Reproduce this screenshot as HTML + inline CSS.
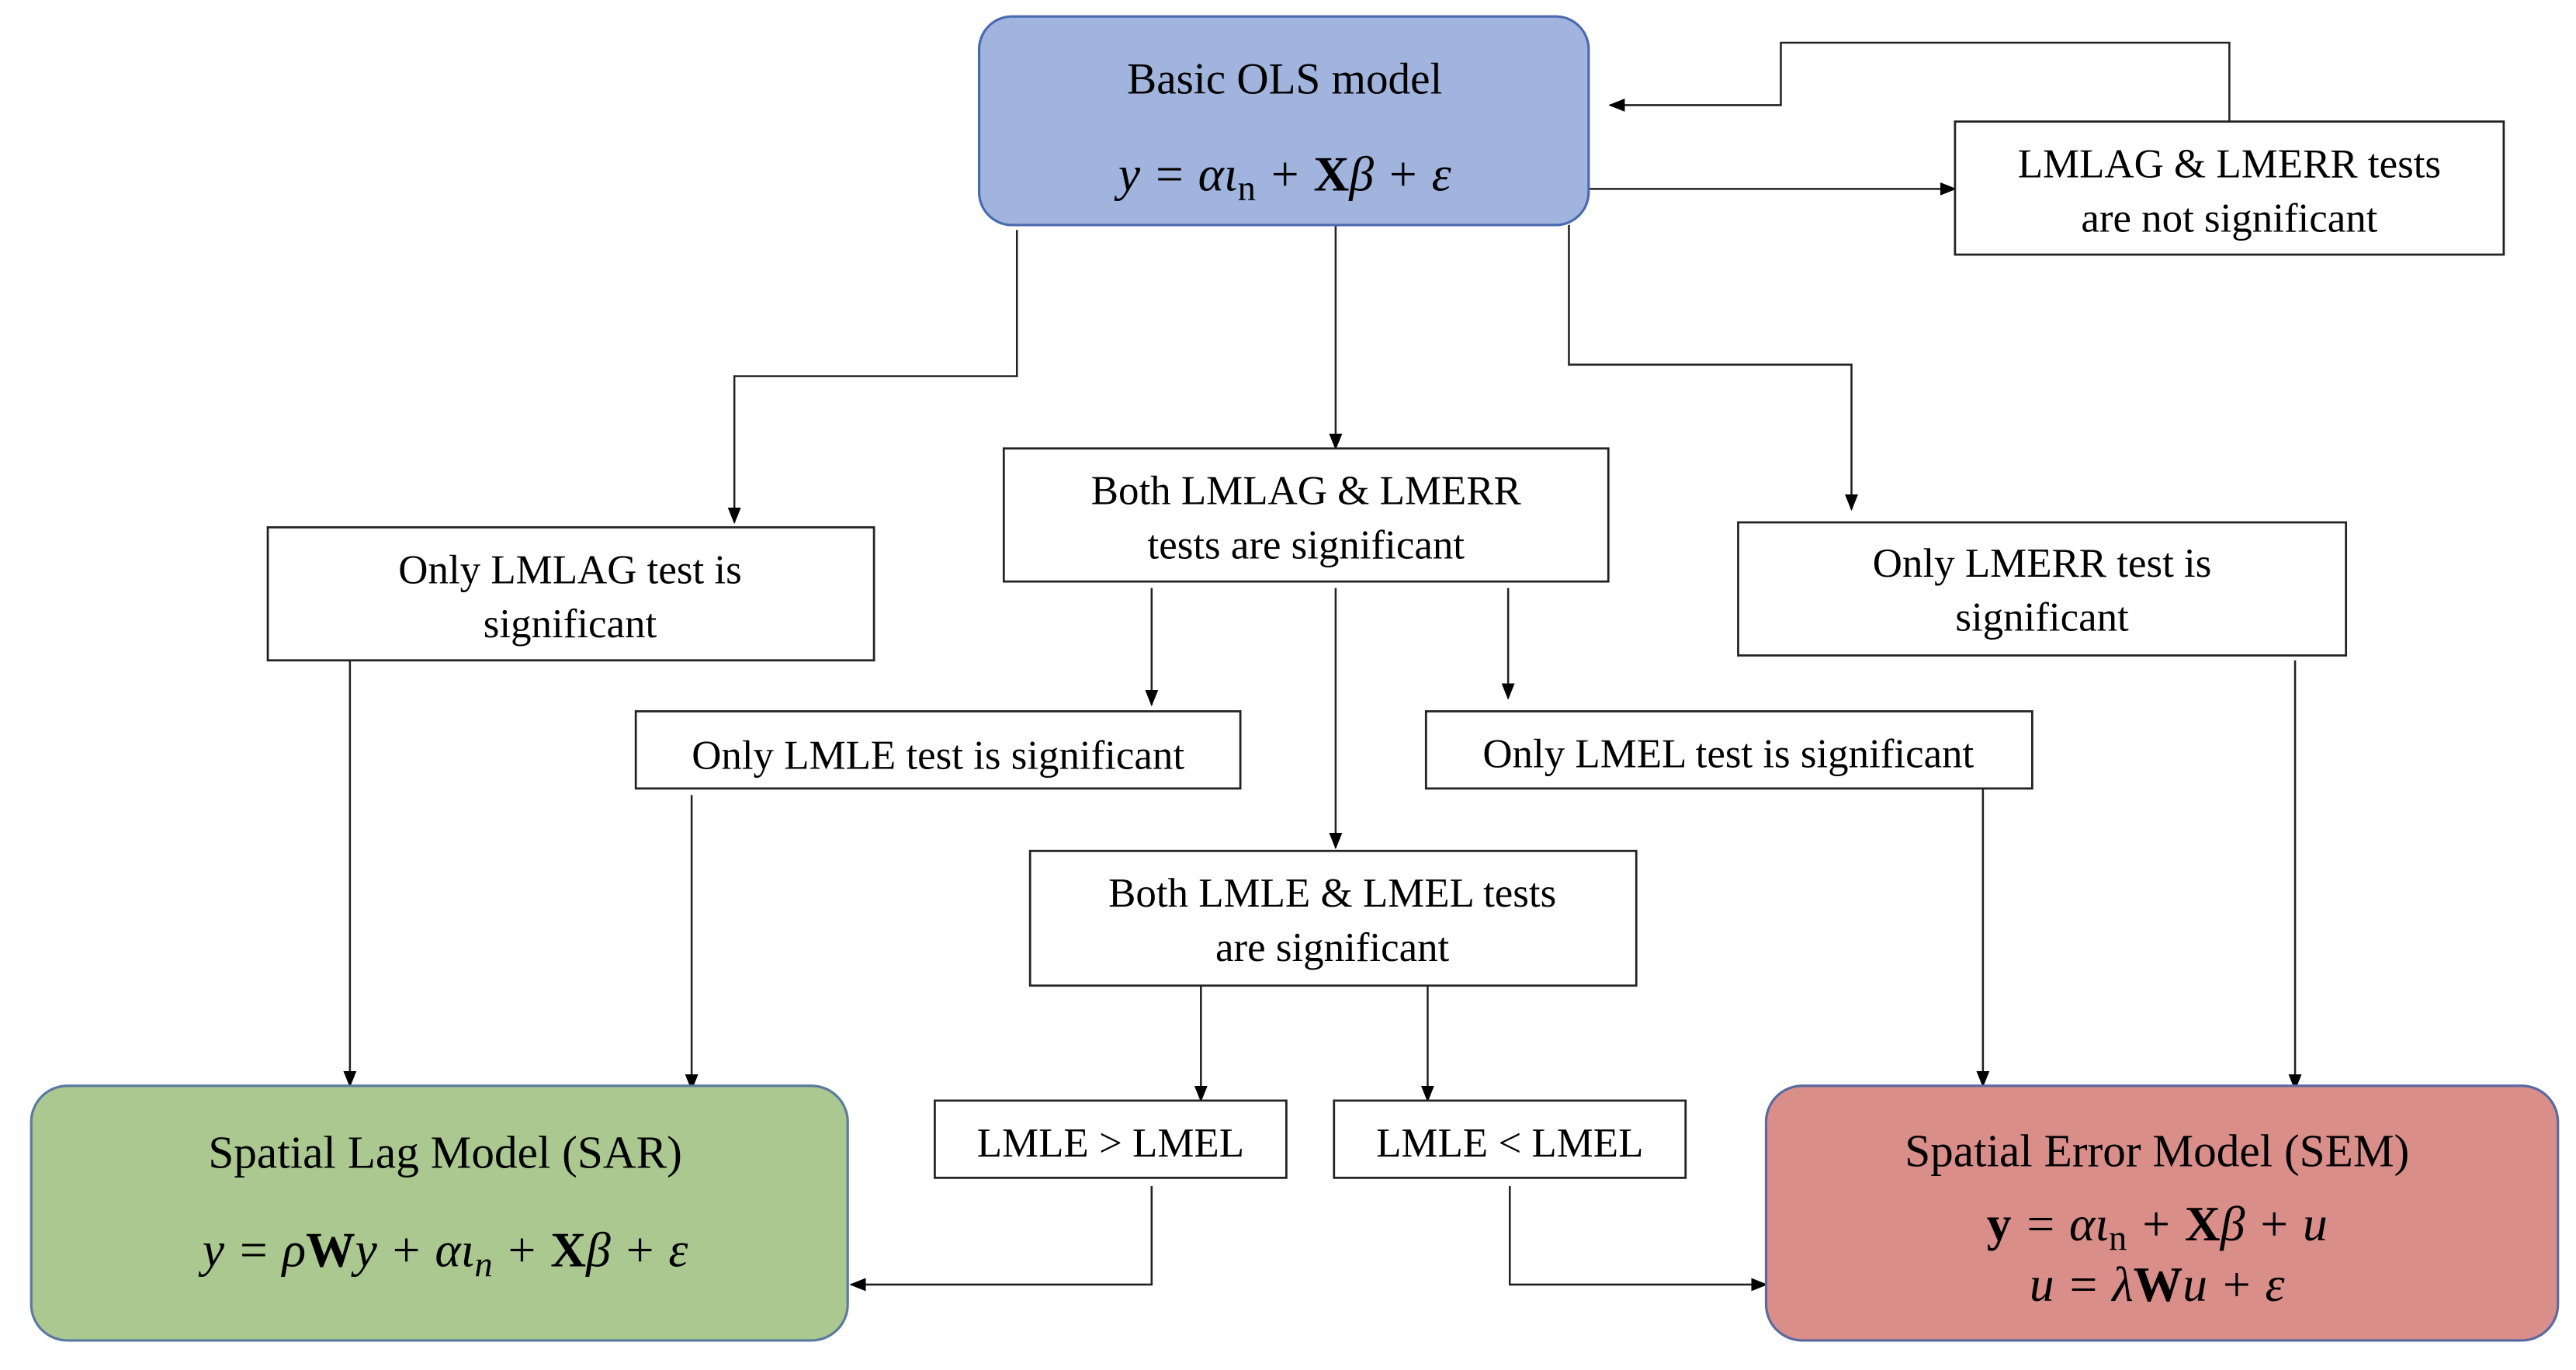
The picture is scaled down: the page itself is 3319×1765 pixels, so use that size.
<!DOCTYPE html>
<html><head><meta charset="utf-8"><style>html,body{margin:0;padding:0;background:#fff}svg{display:block}svg text{font-family:"Times New Roman","Liberation Serif",Times,Tinos,"DejaVu Serif",serif}</style></head><body>
<svg width="3319" height="1765" viewBox="0 0 1568 834" preserveAspectRatio="none" xmlns="http://www.w3.org/2000/svg" fill="#000">
<defs><marker id="a" markerWidth="10" markerHeight="10" refX="9" refY="5" orient="auto" markerUnits="userSpaceOnUse"><path d="M0,1 L10,5 L0,9 Z" fill="#000"/></marker></defs>
<g stroke="#222" stroke-width="1.2" fill="none" marker-end="url(#a)">
<path d="M967,115 H1190"/>
<path d="M1357,74 V26 H1084 V64 H980"/>
<path d="M619,140 V229 H447 V318"/>
<path d="M813,137 V273"/>
<path d="M955,137 V222 H1127 V310"/>
<path d="M213,402 V661"/>
<path d="M701,358 V429"/>
<path d="M813,358 V516"/>
<path d="M918,358 V425"/>
<path d="M421,484 V663"/>
<path d="M1207,480 V661"/>
<path d="M1397,402 V663"/>
<path d="M731,600 V670"/>
<path d="M869,600 V670"/>
<path d="M701,722 V782 H518"/>
<path d="M919,722 V782 H1075"/>
</g>
<rect x="596" y="10" width="371" height="127" rx="20" fill="#a0b4de" stroke="#4a6ab0" stroke-width="1.5"/>
<rect x="19" y="661" width="497" height="155" rx="22" fill="#aac88f" stroke="#5a7aa0" stroke-width="1.5"/>
<rect x="1075" y="661" width="482" height="155" rx="22" fill="#d98e89" stroke="#5a6aa0" stroke-width="1.5"/>
<g fill="#fff" stroke="#222" stroke-width="1.3">
<rect x="1190" y="74" width="334" height="81"/>
<rect x="163" y="321" width="369" height="81"/>
<rect x="611" y="273" width="368" height="81"/>
<rect x="1058" y="318" width="370" height="81"/>
<rect x="387" y="433" width="368" height="47"/>
<rect x="868" y="433" width="369" height="47"/>
<rect x="627" y="518" width="369" height="82"/>
<rect x="569" y="670" width="214" height="47"/>
<rect x="812" y="670" width="214" height="47"/>
</g>
<g font-size="25" text-anchor="middle">
<text x="782" y="57" font-size="27">Basic OLS model</text>
<text x="782" y="116" font-size="30" font-style="italic">y = αι<tspan font-style="normal" font-size="22" dy="6">n</tspan><tspan dy="-6"> + </tspan><tspan font-weight="bold" font-style="normal">X</tspan>β + ε</text>
<text x="1357" y="108">LMLAG &amp; LMERR tests</text>
<text x="1357" y="141">are not significant</text>
<text x="347" y="355">Only LMLAG test is</text>
<text x="347" y="388">significant</text>
<text x="795" y="307">Both LMLAG &amp; LMERR</text>
<text x="795" y="340">tests are significant</text>
<text x="1243" y="351">Only LMERR test is</text>
<text x="1243" y="384">significant</text>
<text x="571" y="468">Only LMLE test is significant</text>
<text x="1052" y="467">Only LMEL test is significant</text>
<text x="811" y="552">Both LMLE &amp; LMEL tests</text>
<text x="811" y="585">are significant</text>
<text x="676" y="704">LMLE &gt; LMEL</text>
<text x="919" y="704">LMLE &lt; LMEL</text>
<text x="271" y="711" font-size="28">Spatial Lag Model (SAR)</text>
<text x="271" y="771" font-size="30" font-style="italic">y = ρ<tspan font-weight="bold" font-style="normal">W</tspan>y + αι<tspan font-size="22" dy="6">n</tspan><tspan dy="-6"> + </tspan><tspan font-weight="bold" font-style="normal">X</tspan>β + ε</text>
<text x="1313" y="710" font-size="28">Spatial Error Model (SEM)</text>
<text x="1313" y="755" font-size="30" font-style="italic"><tspan font-weight="bold" font-style="normal">y</tspan> = αι<tspan font-style="normal" font-size="22" dy="6">n</tspan><tspan dy="-6"> + </tspan><tspan font-weight="bold" font-style="normal">X</tspan>β + u</text>
<text x="1313" y="792" font-size="30" font-style="italic">u = λ<tspan font-weight="bold" font-style="normal">W</tspan>u + ε</text>
</g>
</svg>
</body></html>
